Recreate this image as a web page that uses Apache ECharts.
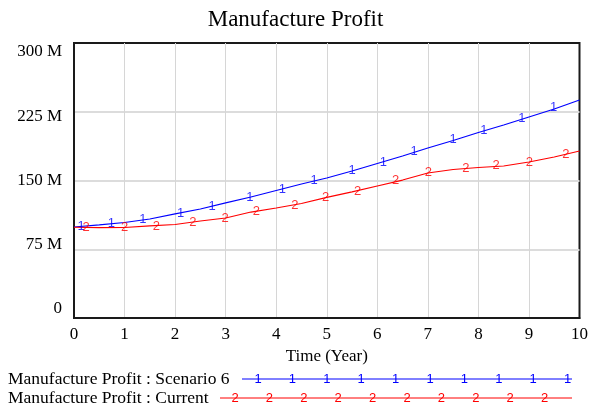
<!DOCTYPE html>
<html>
<head>
<meta charset="utf-8">
<title>Manufacture Profit</title>
<script src="https://cdn.jsdelivr.net/npm/echarts@6/dist/echarts.min.js"></script>
<style>
  html, body { margin: 0; padding: 0; background: #fff; }
</style>
</head>
<body>
<div id="main" style="width: 591px; height: 407px;"></div>
<script type="text/javascript">
// data (values in millions)
var seriesNames = ['Manufacture Profit : Scenario 6', 'Manufacture Profit : Current'];
var years = [0, 0.5, 1, 1.5, 2, 2.5, 3, 3.5, 4, 4.5, 5, 5.5, 6, 6.5, 7, 7.5, 8, 8.5, 9, 9.5, 10];
var scenario6 = [99.3, 101.5, 104.2, 108.0, 113.5, 118.9, 125.5, 132.0, 139.1, 146.2, 152.7,
                 160.4, 168.5, 176.7, 185.5, 193.6, 202.4, 210.5, 219.3, 228.0, 237.8];
var current = [99.0, 98.5, 98.7, 100.4, 102.0, 105.8, 109.1, 115.6, 120.0, 124.9, 131.5,
               137.5, 144.0, 150.5, 158.2, 162.0, 164.2, 165.8, 170.2, 175.6, 182.2];

// where the "1" / "2" markers sit on the lines
var scen6MarkYears = [0.14, 0.74, 1.36, 2.11, 2.73, 3.48, 4.12, 4.75, 5.50, 6.12, 6.73, 7.50, 8.11, 8.86, 9.49];
var scen6MarkValues = [100.4, 103.3, 107.7, 114.2, 121.5, 131.2, 140.4, 150.5, 161.5, 169.9, 181.4, 195.3, 205.1, 217.8, 229.4];
var currentMarkYears = [0.24, 1.0, 1.63, 2.35, 2.99, 3.61, 4.37, 4.98, 5.61, 6.36, 7.01, 7.75, 8.35, 9.01, 9.73];
var currentMarkValues = [98.3, 98.9, 100.4, 104.7, 108.8, 116.7, 123.3, 131.5, 138.5, 149.8, 158.9, 163.3, 166.1, 169.9, 178.6];

var yTicks = [0, 75, 150, 225, 300];

var blue = '#0000ff';
var red = '#ff0000';
var serif = 'Liberation Serif';

function pairs(xs, ys) {
    var out = [];
    for (var i = 0; i < xs.length; i++) out.push([xs[i], ys[i]]);
    return out;
}

function markSeries(name, xs, ys, mark, color) {
    return {
        name: name,
        type: 'scatter',
        data: pairs(xs, ys),
        symbolSize: 1,
        itemStyle: { color: 'rgba(0,0,0,0)' },
        silent: true,
        z: 5,
        label: {
            show: true,
            position: 'inside',
            formatter: mark,
            color: color,
            fontFamily: 'Liberation Sans',
            fontSize: 13
        }
    };
}

// legend rows drawn by hand, vensim style
function legendRow(y, text, lineStart, mark, color, firstMark) {
    var items = [
        { type: 'text', left: 8, top: y - 8,
          style: { text: text, fill: '#000', font: '17.5px "Liberation Serif"' } },
        { type: 'line', shape: { x1: lineStart, y1: y + 1, x2: 572, y2: y + 1 },
          style: { stroke: color, lineWidth: 1 } }
    ];
    for (var i = 0; i < 10; i++) {
        items.push({ type: 'text', x: firstMark + i * 34.4, y: y + 1,
          style: { text: mark, fill: color, font: '13px "Liberation Sans"',
                   textAlign: 'center', textVerticalAlign: 'middle' } });
    }
    return items;
}

// vensim squeezes the y labels a little towards the middle
var yLabelRich = {
    t300: { fontFamily: serif, fontSize: 17, color: '#000', padding: [18, 0, 0, 0] },
    t225: { fontFamily: serif, fontSize: 17, color: '#000', padding: [9, 0, 0, 0] },
    t150: { fontFamily: serif, fontSize: 17, color: '#000' },
    t75: { fontFamily: serif, fontSize: 17, color: '#000', padding: [0, 0, 10, 0] },
    t0: { fontFamily: serif, fontSize: 17, color: '#000', padding: [0, 0, 19, 0] }
};

var myChart = echarts.init(document.getElementById('main'));

var option = {
    animation: false,
    backgroundColor: '#fff',
    title: {
        text: 'Manufacture Profit',
        left: 'center',
        top: 3,
        textStyle: { fontFamily: serif, fontSize: 23, fontWeight: 'normal', color: '#000' }
    },
    grid: {
        left: 74, right: 7, top: 43, bottom: 89,
        show: true, borderColor: '#1a1a1a', borderWidth: 2
    },
    xAxis: {
        type: 'value',
        min: 0, max: 10, interval: 1,
        name: 'Time (Year)',
        nameLocation: 'middle',
        nameGap: 24,
        nameTextStyle: { fontFamily: serif, fontSize: 17, color: '#000' },
        axisLine: { show: true, lineStyle: { color: '#1a1a1a', width: 2 } },
        axisTick: { show: false },
        axisLabel: { fontFamily: serif, fontSize: 17, color: '#000', margin: 8 },
        splitLine: { show: true, showMinLine: false, showMaxLine: false,
                     lineStyle: { color: '#d6d6d6', width: 1 } }
    },
    yAxis: {
        type: 'value',
        min: yTicks[0], max: yTicks[yTicks.length - 1], interval: yTicks[1] - yTicks[0],
        axisLine: { show: true, lineStyle: { color: '#1a1a1a', width: 2 } },
        axisTick: { show: false },
        axisLabel: {
            margin: 12,
            rich: yLabelRich,
            formatter: function (v) {
                var txt = v === 0 ? '0' : v + ' M';
                return '{t' + v + '|' + txt + '}';
            }
        },
        splitLine: { show: true, showMinLine: false, showMaxLine: false,
                     lineStyle: { color: '#dcdcdc', width: 2 } }
    },
    graphic: [].concat(
        legendRow(378, seriesNames[0], 242, '1', blue, 258),
        legendRow(397, seriesNames[1], 220, '2', red, 235)
    ),
    series: [
        {
            name: seriesNames[0],
            type: 'line',
            data: pairs(years, scenario6),
            showSymbol: false,
            lineStyle: { color: blue, width: 1.2 },
            itemStyle: { color: blue }
        },
        {
            name: seriesNames[1],
            type: 'line',
            data: pairs(years, current),
            showSymbol: false,
            lineStyle: { color: red, width: 1.2 },
            itemStyle: { color: red }
        },
        markSeries(seriesNames[0], scen6MarkYears, scen6MarkValues, '1', blue),
        markSeries(seriesNames[1], currentMarkYears, currentMarkValues, '2', red)
    ]
};

myChart.setOption(option);
</script>
</body>
</html>
